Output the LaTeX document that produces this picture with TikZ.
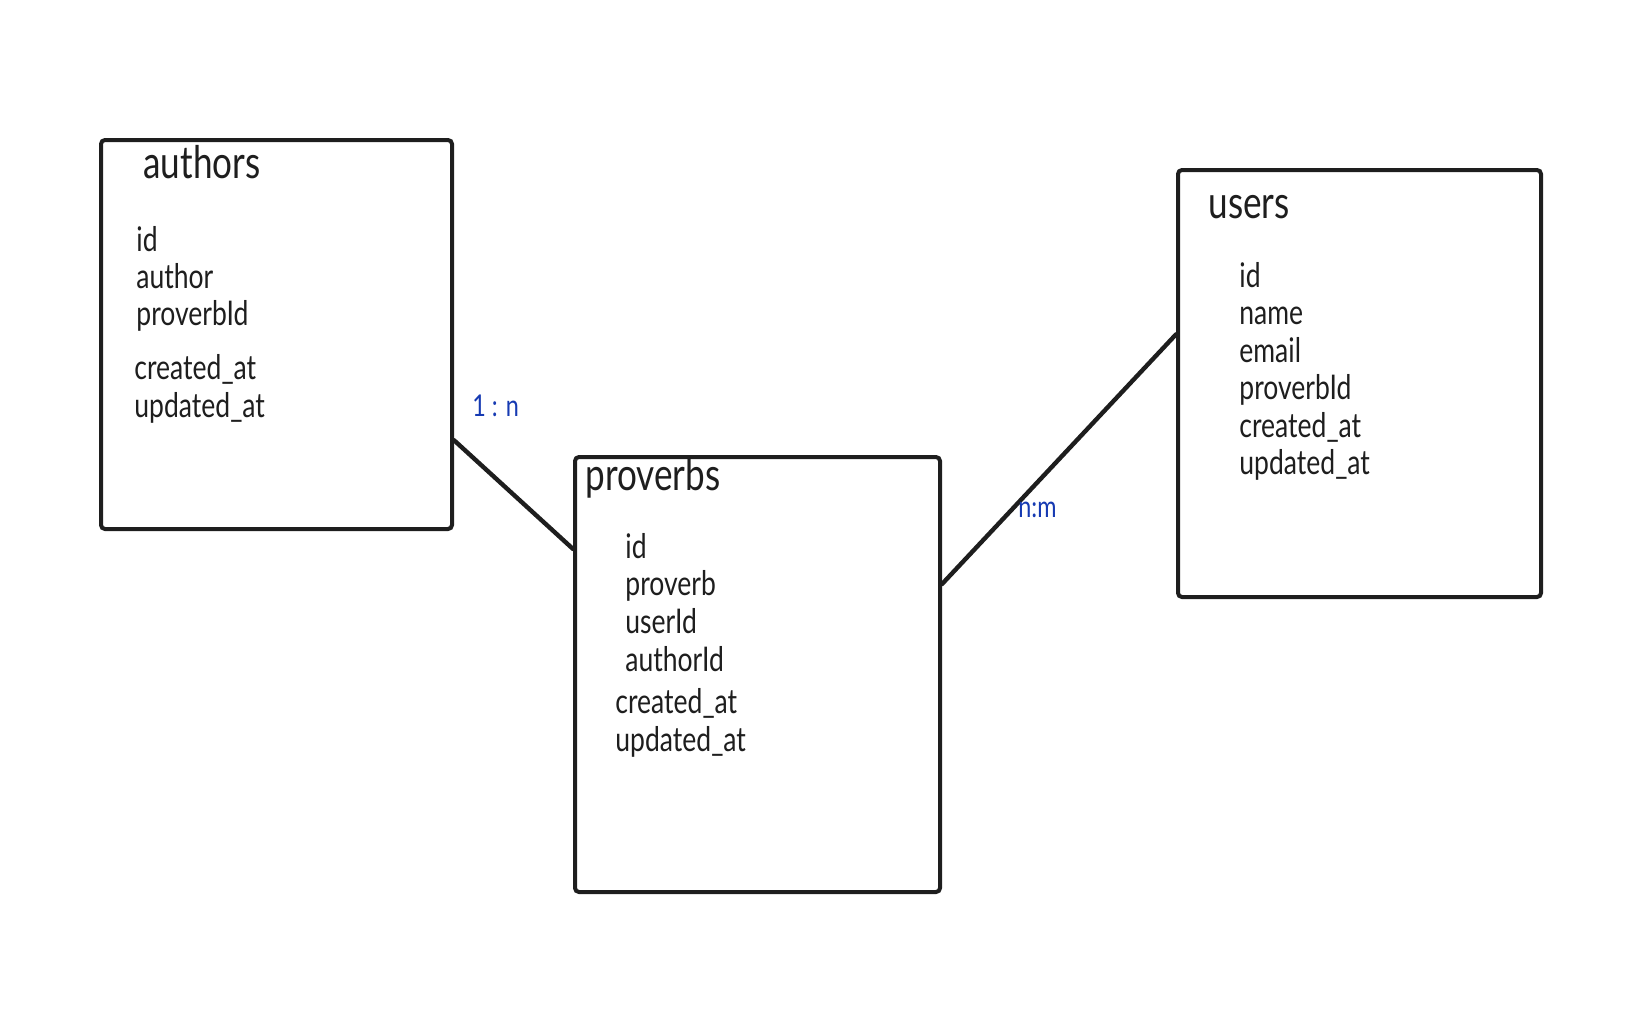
\documentclass[tikz,border=0pt]{standalone}
\usepackage{fontspec}
\setmainfont{Lato}[FakeStretch=0.78]
\usepackage{tikz}
\usetikzlibrary{positioning, calc}
\definecolor{inkgray}{RGB}{30,30,30}
\definecolor{relblue}{RGB}{22,58,178}
\tikzset{
  entity/.style={
    draw=inkgray, rectangle, rounded corners=2pt,
    anchor=north west, inner sep=0pt,
    line width=2pt
  },
  etitle/.style={
    anchor=base west, inner sep=0pt, text=inkgray,
    font=\fontsize{22.5}{25}\selectfont
  },
  field/.style={
    anchor=base west, inner sep=0pt, text=inkgray,
    font=\fontsize{17}{20}\selectfont
  },
  rel/.style={draw=inkgray, line width=2.2pt, line cap=round},
  card/.style={
    anchor=base west, inner sep=0pt, text=relblue,
    font=\fontsize{15}{17}\selectfont
  }
}

\begin{document}
\begin{tikzpicture}[x=0.5pt, y=-0.5pt]
  \useasboundingbox (0,0) rectangle (1627,1014);

  % Tables
  \node[entity, minimum width=175.5pt, minimum height=194.5pt] (authors)  at (99,138)  {};
  \node[entity, minimum width=182.5pt, minimum height=217.5pt] (proverbs) at (573,455) {};
  \node[entity, minimum width=181.5pt, minimum height=213.5pt] (users)    at (1176,168) {};

  % authors
  \node[etitle] (authors-t) at (143,178) {authors};
  \node[field] (a-id)      at (136,251) {id};
  \node[field] (a-author)  at (136,288) {author};
  \node[field] (a-pid)     at (136,325) {proverbId};
  \node[field] (a-created) at (134,379) {created\_at};
  \node[field] (a-updated) at (134,417) {updated\_at};

  % proverbs
  \node[etitle] (proverbs-t) at (585,490) {proverbs};
  \node[field] (p-id)      at (625,558) {id};
  \node[field] (p-proverb) at (625,595) {proverb};
  \node[field] (p-uid)     at (625,633) {userId};
  \node[field] (p-aid)     at (625,671) {authorId};
  \node[field] (p-created) at (615,713) {created\_at};
  \node[field] (p-updated) at (615,751) {updated\_at};

  % users
  \node[etitle] (users-t) at (1208,218) {users};
  \node[field] (u-id)      at (1239,287) {id};
  \node[field] (u-name)    at (1239,324) {name};
  \node[field] (u-email)   at (1239,362) {email};
  \node[field] (u-pid)     at (1239,399) {proverbId};
  \node[field] (u-created) at (1239,437) {created\_at};
  \node[field] (u-updated) at (1239,474) {updated\_at};

  % Relations
  \draw[rel] ($(authors.north east)!0.769!(authors.south east)$)
          -- ($(proverbs.north west)!0.214!(proverbs.south west)$);
  \draw[rel] ($(proverbs.north east)!0.294!(proverbs.south east)$)
          -- ($(users.north west)!0.386!(users.south west)$);
  \node[card] (one-n) at (472,416) {1 : n};
  \node[card] (n-m)   at (1018,517) {n:m};
\end{tikzpicture}
\end{document}
